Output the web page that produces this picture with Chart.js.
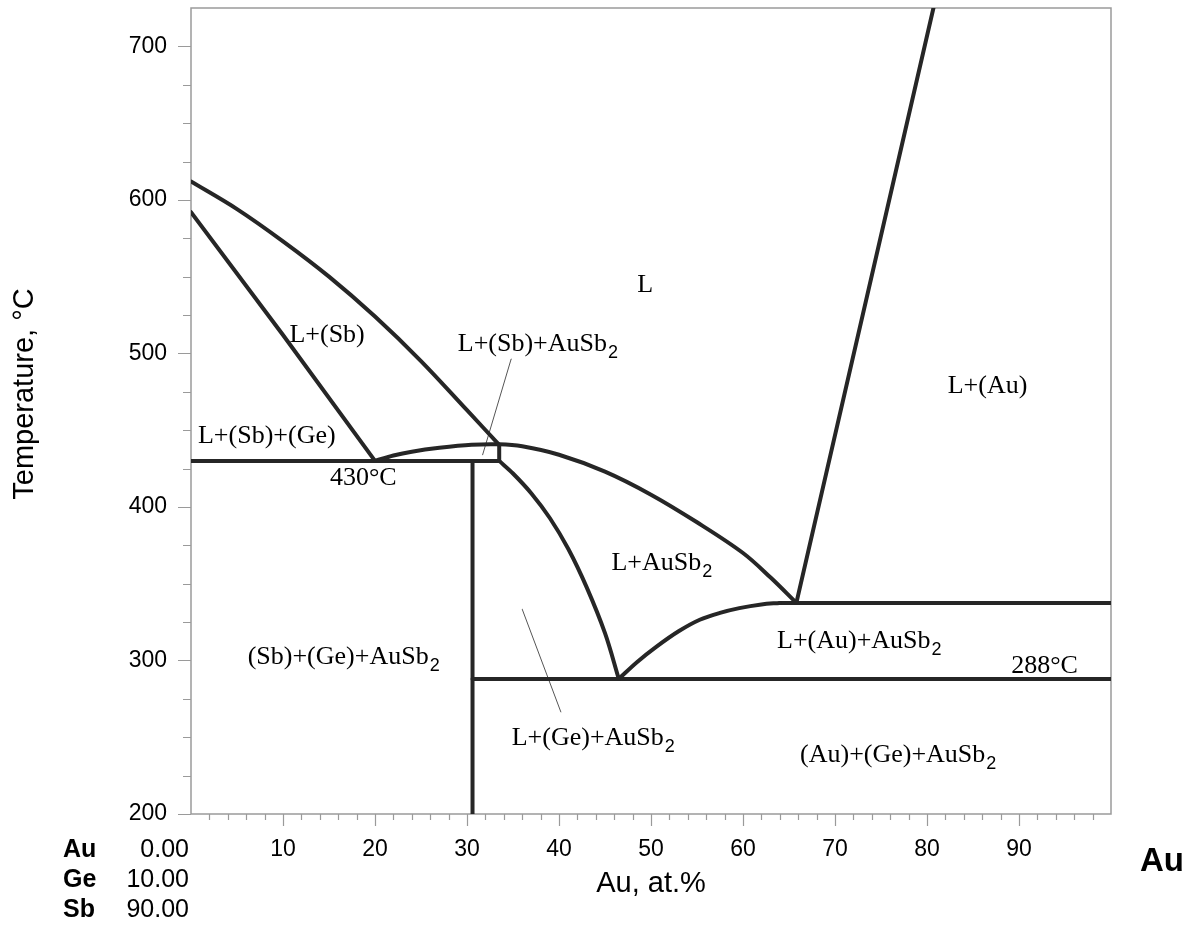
<!DOCTYPE html>
<html lang="en">
<head>
<meta charset="UTF-8">
<title>Au-Ge-Sb section</title>
<style>
    html, body {
        margin: 0;
        padding: 0;
        background: #fff;
    }
    #wrap {
        width: 1195px;
        height: 928px;
    }
</style>
</head>
<body>
<div id="wrap"><canvas id="phase" width="1195" height="928"></canvas></div>

<script src="https://cdn.jsdelivr.net/npm/chart.js"></script>
<script>
    // axis ticks
    const tempTicks = [200, 300, 400, 500, 600, 700];
    const auTicks = [10, 20, 30, 40, 50, 60, 70, 80, 90];

    // phase boundaries (x = Au at.%, t = temperature °C)
    const sbLiquidusX = [0, 5, 10, 15, 20, 25, 30, 33.5];
    const sbLiquidusT = [612, 594, 573, 550, 524, 495, 463, 440.5];

    const sbInnerX = [0, 10, 20];
    const sbInnerT = [592, 512, 430];

    const eut430X = [0, 33.5];
    const eut430T = [430, 430];

    const boxSideX = [33.5, 33.5];
    const boxSideT = [430, 440.5];

    const ausb2LiqX = [20, 22, 24, 27, 30.5, 33.5, 36, 40, 45, 50, 55, 60, 63, 65.8];
    const ausb2LiqT = [430, 433.5, 436, 438.5, 440.5, 440.8, 439.5, 434, 423, 408, 390, 370, 354, 337.5];

    const ausb2LowX = [33.5, 35, 37, 39, 41, 43, 45, 46.5];
    const ausb2LowT = [430, 421.8, 408.8, 392.8, 372.8, 347.8, 317.8, 288];

    const auSideX = [46.5, 48.5, 50.6, 53, 55.3, 57.5, 59.6, 62, 64];
    const auSideT = [288, 299, 309, 319, 326.5, 331, 334.1, 336.5, 337.5];

    const eut338X = [64, 100];
    const eut338T = [337.5, 337.5];

    const eut288X = [30.6, 100];
    const eut288T = [288, 288];

    const geVertX = [30.6, 30.6];
    const geVertT = [200, 430];

    const auLiquidusX = [65.8, 80.7];
    const auLiquidusT = [337.5, 725];

    const leader1X = [34.8, 31.7];
    const leader1T = [496.4, 434];
    const leader2X = [36.0, 40.2];
    const leader2T = [333.4, 266.5];

    // region labels: left edge (at.%) and baseline (°C)
    const phaseLabels = ['L', 'L+(Sb)', 'L+(Sb)+AuSb2', 'L+(Au)', 'L+(Sb)+(Ge)', '430°C',
        'L+AuSb2', '(Sb)+(Ge)+AuSb2', 'L+(Au)+AuSb2', '288°C', 'L+(Ge)+AuSb2', '(Au)+(Ge)+AuSb2'];
    const phaseLabelX = [48.5, 10.7, 29.0, 82.25, 0.76, 15.1, 45.7, 6.16, 63.7, 89.15, 34.86, 66.2];
    const phaseLabelT = [540.3, 507.2, 501.4, 474.4, 441.7, 414.5, 359.1, 297.8, 308.0, 292.1, 245.0, 233.9];

    // composition of the left end
    const compElements = ['Au', 'Ge', 'Sb'];
    const compValues = ['0.00', '10.00', '90.00'];

    const SANS = "'Liberation Sans', Arial, sans-serif";
    const SERIF = "'Liberation Serif', 'Times New Roman', serif";
    const LINE = '#262626';

    function pts(xs, ts) {
        return xs.map((x, i) => ({ x: x, y: ts[i] }));
    }

    // style: 'curve' smooth, 'thin' leader line, otherwise straight boundary
    function boundary(xs, ts, style) {
        const thin = style === 'thin';
        return {
            data: pts(xs, ts),
            showLine: true,
            borderColor: thin ? '#555' : LINE,
            borderWidth: thin ? 1 : 4,
            borderCapStyle: 'round',
            borderJoinStyle: 'round',
            pointRadius: 0,
            tension: style === 'curve' ? 0.35 : 0,
            fill: false
        };
    }

    // frame and tick marks
    const framePlugin = {
        id: 'frame',
        beforeDatasetsDraw(chart) {
            const ctx = chart.ctx, a = chart.chartArea;
            const xs = chart.scales.x, ys = chart.scales.y;
            ctx.save();
            ctx.strokeStyle = '#9a9a9a';
            ctx.lineWidth = 1.5;
            ctx.strokeRect(a.left, a.top, a.right - a.left, a.bottom - a.top);
            ctx.lineWidth = 1.2;
            ctx.beginPath();
            for (let v = 200; v < 725; v += 25) {
                const py = Math.round(ys.getPixelForValue(v)) + 0.5;
                const len = tempTicks.includes(v) ? 13 : 8;
                ctx.moveTo(a.left - len, py);
                ctx.lineTo(a.left, py);
            }
            for (let v = 2; v < 100; v += 2) {
                const px = Math.round(xs.getPixelForValue(v)) + 0.5;
                const len = auTicks.includes(v) ? 12 : 6;
                ctx.moveTo(px, a.bottom);
                ctx.lineTo(px, a.bottom + len);
            }
            ctx.stroke();
            ctx.restore();
        },
        afterDraw(chart) {
            const ctx = chart.ctx, a = chart.chartArea;
            const xs = chart.scales.x, ys = chart.scales.y;
            ctx.save();
            ctx.fillStyle = '#000';

            // region labels
            ctx.textAlign = 'left';
            ctx.textBaseline = 'alphabetic';
            phaseLabels.forEach((txt, i) => {
                const px = xs.getPixelForValue(phaseLabelX[i]);
                const py = ys.getPixelForValue(phaseLabelT[i]);
                let main = txt, sub = '';
                if (txt.endsWith('AuSb2')) {
                    main = txt.slice(0, -1);
                    sub = '2';
                }
                ctx.font = '26px ' + SERIF;
                ctx.fillText(main, px, py);
                if (sub) {
                    const w = ctx.measureText(main).width;
                    ctx.font = '18px ' + SANS;
                    ctx.fillText(sub, px + w + 1, py + 7);
                }
            });

            // axis titles
            ctx.font = '29px ' + SANS;
            ctx.textAlign = 'center';
            ctx.fillText('Au, at.%', (a.left + a.right) / 2, 892);
            ctx.save();
            ctx.translate(33, 394);
            ctx.rotate(-Math.PI / 2);
            ctx.fillText('Temperature, °C', 0, 0);
            ctx.restore();

            ctx.font = 'bold 33px ' + SANS;
            ctx.textAlign = 'left';
            ctx.fillText('Au', 1140, 871);

            // composition table
            compElements.forEach((el, i) => {
                const base = 857 + i * 30;
                ctx.font = 'bold 25px ' + SANS;
                ctx.textAlign = 'left';
                ctx.fillText(el, 63, base);
                ctx.font = '25px ' + SANS;
                ctx.textAlign = 'right';
                ctx.fillText(compValues[i], 189, base);
            });
            ctx.restore();
        }
    };

    new Chart(document.getElementById('phase'), {
        type: 'scatter',
        data: {
            datasets: [
                boundary(sbLiquidusX, sbLiquidusT, 'curve'),
                boundary(sbInnerX, sbInnerT),
                boundary(eut430X, eut430T),
                boundary(boxSideX, boxSideT),
                boundary(ausb2LiqX, ausb2LiqT, 'curve'),
                boundary(ausb2LowX, ausb2LowT, 'curve'),
                boundary(auSideX, auSideT, 'curve'),
                boundary(eut338X, eut338T),
                boundary(eut288X, eut288T),
                boundary(geVertX, geVertT),
                boundary(auLiquidusX, auLiquidusT),
                boundary(leader1X, leader1T, 'thin'),
                boundary(leader2X, leader2T, 'thin')
            ]
        },
        options: {
            responsive: false,
            animation: false,
            layout: { padding: { top: 8, right: 84, left: 0, bottom: 0 } },
            plugins: {
                legend: { display: false },
                tooltip: { enabled: false }
            },
            scales: {
                x: {
                    type: 'linear',
                    min: 0,
                    max: 100,
                    grid: { display: false, drawTicks: false },
                    border: { display: false },
                    ticks: {
                        stepSize: 10,
                        autoSkip: false,
                        maxRotation: 0,
                        padding: 22,
                        color: '#000',
                        font: { family: SANS, size: 23 },
                        callback: v => auTicks.includes(v) ? String(v) : ''
                    },
                    afterFit: s => {
                        s.height = 114;
                        s.paddingLeft = 0;
                        s.paddingRight = 0;
                    }
                },
                y: {
                    type: 'linear',
                    min: 200,
                    max: 725,
                    grid: { display: false, drawTicks: false },
                    border: { display: false },
                    ticks: {
                        stepSize: 25,
                        autoSkip: false,
                        padding: 24,
                        color: '#000',
                        font: { family: SANS, size: 23 },
                        callback: v => tempTicks.includes(v) ? String(v) : ''
                    },
                    afterFit: s => {
                        s.width = 191;
                        s.paddingTop = 0;
                        s.paddingBottom = 0;
                    }
                }
            }
        },
        plugins: [framePlugin]
    });
</script>
</body>
</html>
